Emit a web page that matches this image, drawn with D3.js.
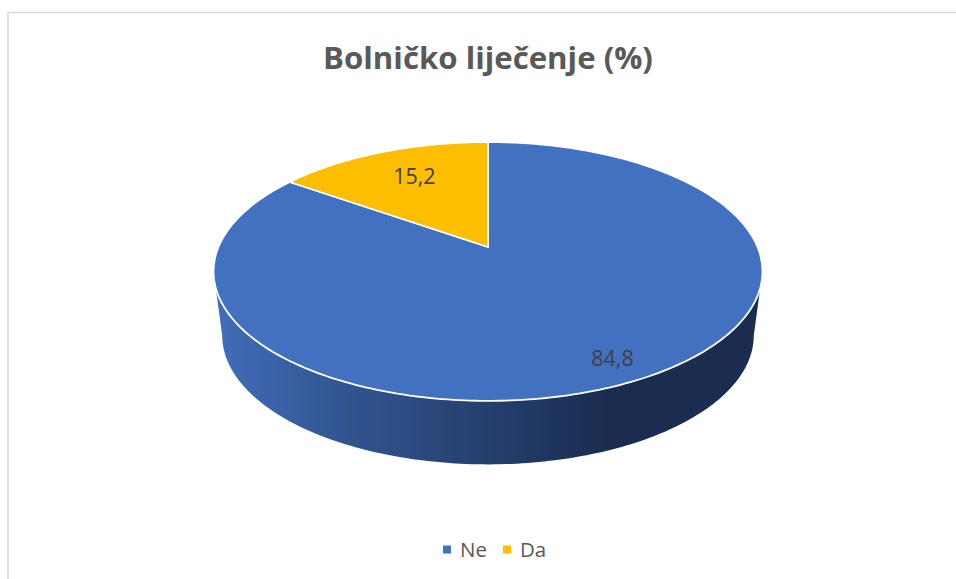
<!DOCTYPE html>
<html>
<head>
<meta charset="utf-8">
<script src="https://cdn.jsdelivr.net/npm/d3@7"></script>
<style>
  html, body { margin: 0; padding: 0; background: #fff; }
  svg { display: block; font-family: "Open Sans", sans-serif; }
</style>
</head>
<body>
<svg id="chart" width="956" height="579"></svg>
<script>
// Data
const categories = ['Ne', 'Da'];
const values = [84.8, 15.2];
const valueLabels = ['84,8', '15,2'];
const colors = ['#4371C1', '#FDBD00'];

const svg = d3.select('#chart');

// Perspective settings for the tilted disc
const apex = { x: 488, y: 247 };
const k = 0.189; // How much the far edge shrinks
const topDisc = { a: 269.5, b: 124.8, y0: apex.y };
const bottomDisc = { a: 261, b: 124.4, y0: 311 };

// Project a point given in polar form (0 = up, clockwise) onto the page
function project(angle, r, disc) {
  const w = 1 + k * r * Math.cos(angle);
  return [
    apex.x + disc.a * r * Math.sin(angle) / w,
    disc.y0 - disc.b * r * Math.cos(angle) / w,
  ];
}

const line = d3.line();
const step = Math.PI / 180;

// Sample the rim between two angles
function rim(start, end, disc) {
  return d3.range(start, end, step).concat([end]).map((a) => project(a, 1, disc));
}

const pie = d3.pie().sort(null)(values);

// Gradient for the side wall
const defs = svg.append('defs');
const gradient = defs.append('linearGradient')
  .attr('id', 'side')
  .attr('gradientUnits', 'userSpaceOnUse')
  .attr('x1', 214).attr('x2', 762).attr('y1', 0).attr('y2', 0);
[[0, '#426DBA'], [0.25, '#31548F'], [0.5, '#253F6E'], [0.72, '#1A2C50'], [1, '#1A2C50']].forEach(([o, c]) => {
  gradient.append('stop').attr('offset', o).attr('stop-color', c);
});

// Frame
svg.append('path')
  .attr('d', 'M8,579V12.5H956')
  .attr('fill', 'none')
  .attr('stroke', '#D9D9D9')
  .attr('stroke-width', 1.6);

// Side wall, from the right silhouette round the front to the left one
const sideStart = Math.acos(-k);
const sideEnd = 2 * Math.PI - sideStart;
svg.append('path')
  .attr('d', `${line(rim(sideStart, sideEnd, topDisc).concat(rim(sideStart, sideEnd, bottomDisc).reverse()))}Z`)
  .attr('fill', 'url(#side)');

// Top of the disc
svg.append('g').selectAll('path')
  .data(pie)
  .join('path')
  .attr('d', (d) => `${line([[apex.x, apex.y], ...rim(d.startAngle, d.endAngle, topDisc)])}Z`)
  .attr('fill', (d, i) => colors[i])
  .attr('stroke', '#fff')
  .attr('stroke-width', 1.8)
  .attr('stroke-linejoin', 'round');

// Value labels (Excel's best fit puts them at different depths)
const labelRadius = [0.86, 0.66];
const labelLift = [0, 5];
svg.append('g').selectAll('text')
  .data(pie)
  .join('text')
  .attr('x', (d, i) => project((d.startAngle + d.endAngle) / 2, labelRadius[i], topDisc)[0])
  .attr('y', (d, i) => project((d.startAngle + d.endAngle) / 2, labelRadius[i], topDisc)[1] - labelLift[i])
  .attr('dy', '0.35em')
  .attr('text-anchor', 'middle')
  .attr('font-size', 21.5)
  .attr('fill', '#404040')
  .text((d, i) => valueLabels[i]);

// Title
svg.append('text')
  .attr('x', 488)
  .attr('y', 69)
  .attr('text-anchor', 'middle')
  .attr('font-size', 31.2)
  .attr('font-weight', 700)
  .attr('fill', '#595959')
  .text('Bolničko liječenje (%)');

// Legend
const legendX = d3.scalePoint().domain(categories).range([443, 503]);
const legend = svg.append('g').selectAll('g')
  .data(categories)
  .join('g')
  .attr('transform', (d) => `translate(${legendX(d)},549.5)`);
legend.append('rect')
  .attr('x', 0).attr('y', -4)
  .attr('width', 8).attr('height', 8)
  .attr('fill', (d, i) => colors[i]);
legend.append('text')
  .attr('x', 17)
  .attr('dy', '0.35em')
  .attr('font-size', 20.5)
  .attr('fill', '#595959')
  .text((d) => d);
</script>
</body>
</html>
